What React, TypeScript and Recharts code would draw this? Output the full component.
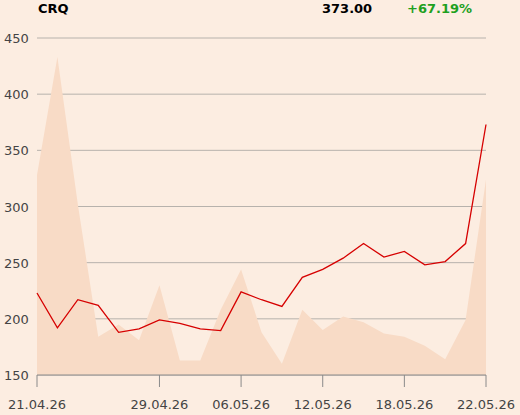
import React from "react";
import { ComposedChart, Area, Line, CartesianGrid, XAxis, YAxis } from "recharts";

const dates = [
  "21.04.26", "22.04.26", "23.04.26", "24.04.26", "27.04.26", "28.04.26", "29.04.26",
  "30.04.26", "04.05.26", "05.05.26", "06.05.26", "07.05.26", "08.05.26", "11.05.26",
  "12.05.26", "13.05.26", "14.05.26", "15.05.26", "18.05.26", "19.05.26", "20.05.26",
  "21.05.26", "22.05.26",
];

const price = [
  223, 192, 217, 212, 188, 191, 199, 196, 191, 189.5, 224, 217,
  211, 237, 244, 254, 267, 255, 260, 248, 251, 267, 373,
];

// shaded background series, read in the same units as the price axis
const volume = [
  328, 433, 302, 184, 195, 181, 230, 163, 163, 208, 244, 188,
  160, 208, 190, 202, 197, 187, 184, 176, 164, 199, 324,
];

const xTicks = ["21.04.26", "29.04.26", "06.05.26", "12.05.26", "18.05.26", "22.05.26"];
const yTicks = [150, 200, 250, 300, 350, 400, 450];

const data = dates.map((d, i) => ({ date: d, price: price[i], volume: volume[i] }));

const font = "'DejaVu Sans', sans-serif";

function XTick(props: any) {
  const { x, payload } = props;
  return (
    <text x={x} y={409} textAnchor="middle" fontSize={13} fontFamily={font} fill="#444">
      {payload.value}
    </text>
  );
}

function YTick(props: any) {
  const { y, payload } = props;
  return (
    <text x={4} y={y} dy={5} textAnchor="start" fontSize={13} fontFamily={font} fill="#444">
      {payload.value}
    </text>
  );
}

export default function App() {
  return (
    <div
      style={{
        position: "fixed",
        left: 0,
        top: 0,
        width: 520,
        height: 415,
        background: "#fcede1",
        fontFamily: font,
      }}
    >
      <div style={{ position: "absolute", left: 38, top: 1, fontSize: 13, fontWeight: "bold", color: "#000" }}>
        CRQ
      </div>
      <div style={{ position: "absolute", left: 322, top: 1, fontSize: 13, fontWeight: "bold", color: "#000" }}>
        373.00
      </div>
      <div style={{ position: "absolute", left: 407, top: 1, fontSize: 13, fontWeight: "bold", color: "#1ea01e" }}>
        +67.19%
      </div>
      <ComposedChart
        width={520}
        height={415}
        data={data}
        margin={{ top: 38, right: 34, left: 0, bottom: 0 }}
      >
        <CartesianGrid stroke="#b7b2ac" vertical={false} />
        <XAxis
          dataKey="date"
          ticks={xTicks}
          interval={0}
          height={40}
          tickSize={12}
          stroke="#8a8a8a"
          tick={<XTick />}
        />
        <YAxis
          domain={[150, 450]}
          ticks={yTicks}
          width={37}
          axisLine={false}
          tickLine={false}
          tick={<YTick />}
        />
        <Area
          dataKey="volume"
          type="linear"
          stroke="none"
          fill="#f8dbc6"
          fillOpacity={1}
          isAnimationActive={false}
        />
        <Line
          dataKey="price"
          type="linear"
          stroke="#d60000"
          strokeWidth={1.3}
          dot={false}
          isAnimationActive={false}
        />
      </ComposedChart>
    </div>
  );
}
